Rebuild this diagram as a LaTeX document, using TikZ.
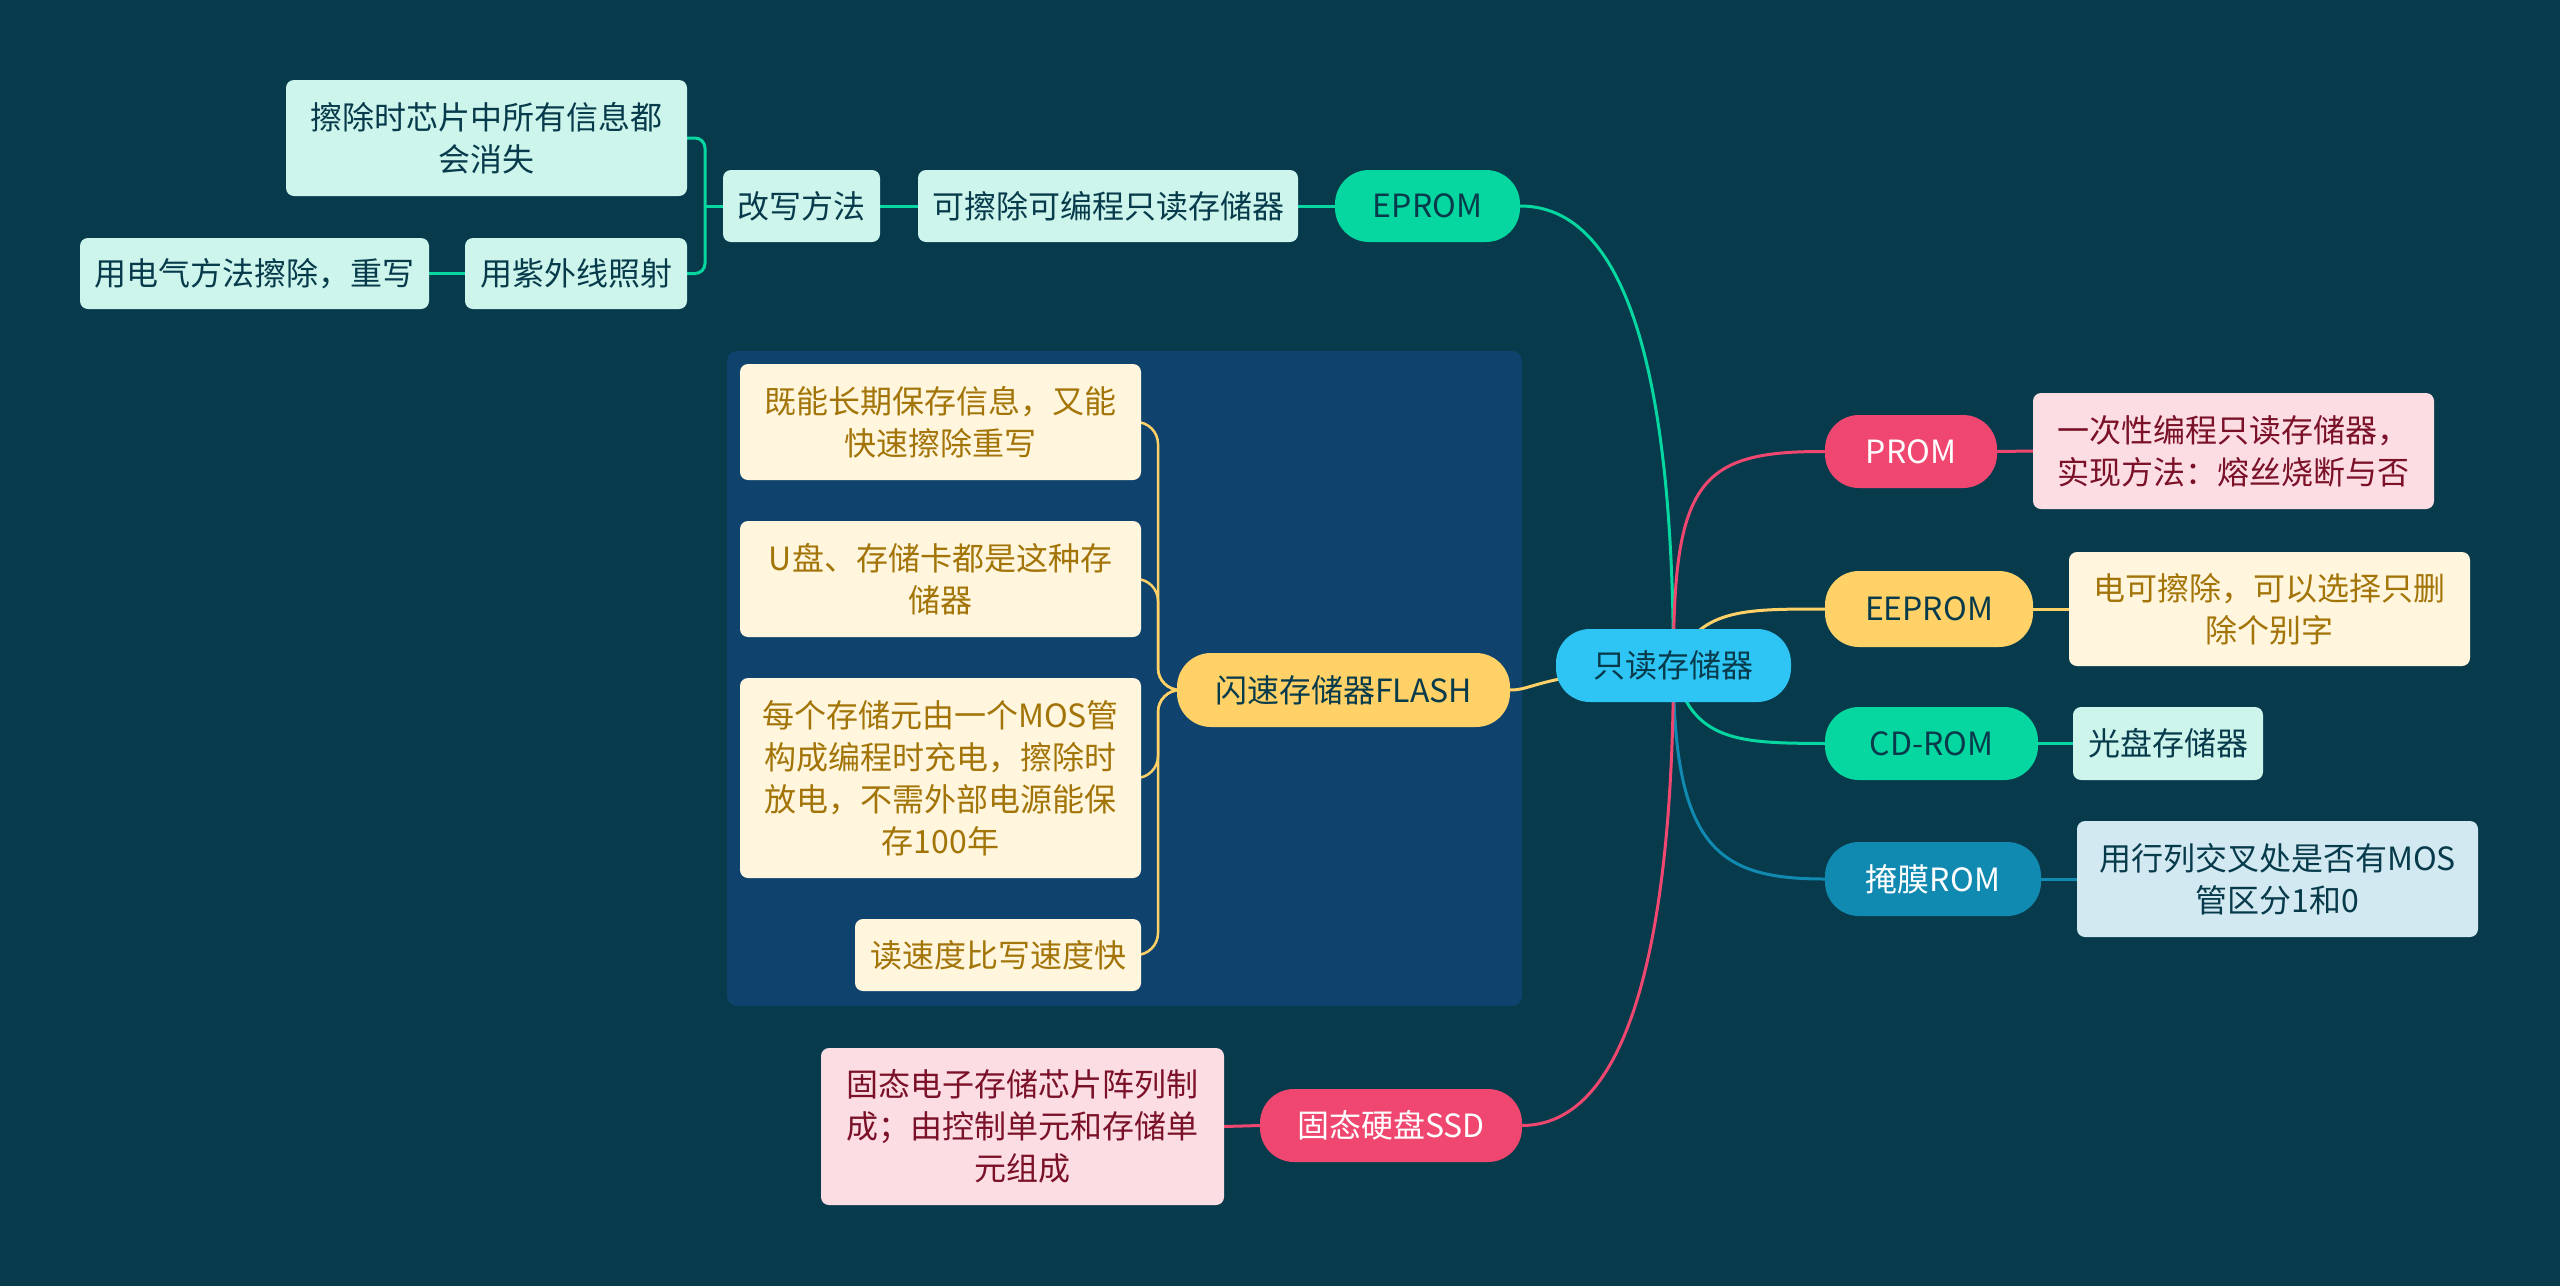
\documentclass[tikz,border=0pt]{standalone}
\usepackage{fontspec}
\setmainfont{Noto Sans CJK SC}
\usetikzlibrary{backgrounds}
\definecolor{bgc}{HTML}{073B4C}
\definecolor{grp}{HTML}{0F436D}
\definecolor{cteal}{HTML}{06D6A0}
\definecolor{cpink}{HTML}{EF476F}
\definecolor{cyel}{HTML}{FFD166}
\definecolor{cblue}{HTML}{118AB2}
\definecolor{croot}{HTML}{2EC4F3}
\definecolor{lteal}{HTML}{CDF5EC}
\definecolor{lyel}{HTML}{FFF6DD}
\definecolor{lpink}{HTML}{FDDDE4}
\definecolor{lblue}{HTML}{D2E9F1}
\definecolor{tyel}{HTML}{A37408}
\definecolor{tpink}{HTML}{7A1128}
\definecolor{tdark}{HTML}{073B4C}
\newcommand\bx[7]{\node[#6, minimum width={#4-#2}, minimum height={#5-#3}] (#1) at ({(#2+#4)/2},{(#3+#5)/2}) {#7};}
\begin{document}
\begin{tikzpicture}[x=1pt,y=-1pt,
  base/.style={inner sep=0pt, align=center, font=\fontsize{32}{42}\selectfont},
  tbox/.style={base, rounded corners=8pt},
  pill/.style={base, rounded corners=34pt},
  teal box/.style={tbox, fill=lteal, text=tdark},
  yel box/.style={tbox, fill=lyel, text=tyel},
  pink box/.style={tbox, fill=lpink, text=tpink},
  blue box/.style={tbox, fill=lblue, text=tdark},
  link/.style={line width=3pt}]
\useasboundingbox (0,0) rectangle (2560,1286);
\begin{scope}[on background layer]
\fill[bgc] (0,0) rectangle (2560,1286);
\fill[grp, rounded corners=10pt] (727,351) rectangle (1522,1006);
\end{scope}
% EPROM side
\bx{e1}{286}{80}{687}{196}{teal box}{擦除时芯片中所有信息都\\会消失}
\bx{gx}{723}{170}{880}{242}{teal box}{改写方法}
\bx{kc}{918}{170}{1298}{242}{teal box}{可擦除可编程只读存储器}
\bx{dq}{80}{238}{429}{309}{teal box}{用电气方法擦除，重写}
\bx{zw}{465}{238}{687}{309}{teal box}{用紫外线照射}
\bx{eprom}{1335}{170}{1520}{242}{pill, fill=cteal, text=tdark}{EPROM}
% root
\bx{root}{1556}{629}{1791}{702}{pill, fill=croot, text=tdark}{只读存储器}
% flash
\bx{flash}{1177}{653}{1510}{727}{pill, fill=cyel, text=tdark}{闪速存储器FLASH}
\bx{f1}{740}{364}{1141}{480}{yel box}{既能长期保存信息，又能\\快速擦除重写}
\bx{f2}{740}{521}{1141}{637}{yel box}{U盘、存储卡都是这种存\\储器}
\bx{f3}{740}{678}{1141}{878}{yel box}{每个存储元由一个MOS管\\构成编程时充电，擦除时\\放电，不需外部电源能保\\存100年}
\bx{f4}{855}{919}{1141}{991}{yel box}{读速度比写速度快}
% right side
\bx{prom}{1825}{415}{1997}{488}{pill, fill=cpink, text=white}{PROM}
\bx{pt}{2033}{393}{2434}{509}{pink box}{一次性编程只读存储器，\\实现方法：熔丝烧断与否}
\bx{eeprom}{1825}{571}{2033}{647}{pill, fill=cyel, text=tdark}{EEPROM}
\bx{eet}{2069}{552}{2470}{666}{yel box}{电可擦除，可以选择只删\\除个别字}
\bx{cdrom}{1825}{707}{2038}{780}{pill, fill=cteal, text=tdark}{CD-ROM}
\bx{gp}{2073}{707}{2263}{780}{teal box}{光盘存储器}
\bx{mask}{1825}{842}{2041}{916}{pill, fill=cblue, text=white}{掩膜ROM}
\bx{mt}{2077}{821}{2478}{937}{blue box}{用行列交叉处是否有MOS\\管区分1和0}
% SSD
\bx{ssd}{1260}{1089}{1522}{1162}{pill, fill=cpink, text=white}{固态硬盘SSD}
\bx{st}{821}{1048}{1224}{1205}{pink box}{固态电子存储芯片阵列制\\成；由控制单元和存储单\\元组成}
\begin{scope}[on background layer]
% root branches
\draw[link, cteal] (eprom.east) .. controls (1640,206) and (1673,420) .. (root.center);
\draw[link, cpink] (root.center) .. controls (1673,480) and (1700,451) .. (prom.west);
\draw[link, cyel] (root.center) .. controls (1700,609) and (1740,609) .. (eeprom.west);
\draw[link, cteal] (root.center) .. controls (1690,743) and (1740,743) .. (cdrom.west);
\draw[link, cblue] (root.center) .. controls (1673,850) and (1720,879) .. (mask.west);
\draw[link, cpink] (ssd.east) .. controls (1640,1125) and (1673,900) .. (root.center);
\draw[link, cyel] (flash.east) .. controls (1535,690) and (1535,675) .. (root.center);
% leaves
\draw[link, cpink] (prom.east) -- (pt.west);
\draw[link, cyel] (eeprom.east) -- (eet.west);
\draw[link, cteal] (cdrom.east) -- (gp.west);
\draw[link, cblue] (mask.east) -- (mt.west);
\draw[link, cpink] (ssd.west) -- (st.east);
% EPROM chain
\draw[link, cteal] (eprom.west) -- (kc.east);
\draw[link, cteal] (kc.west) -- (gx.east);
\draw[link, cteal, rounded corners=10pt] (e1.east) -- (705,138) -- (705,273.5) -- (zw.east);
\draw[link, cteal] (705,206) -- (gx.west);
\draw[link, cteal] (zw.west) -- (dq.east);
% flash children
\foreach \c in {f1,f2,f3,f4}{
  \draw[line width=2.5pt, cyel, rounded corners=22pt] (\c.east) -- (\c.east -| 1158,0) -- (1158,690) -- (flash.west);
}
\end{scope}
\end{tikzpicture}
\end{document}
